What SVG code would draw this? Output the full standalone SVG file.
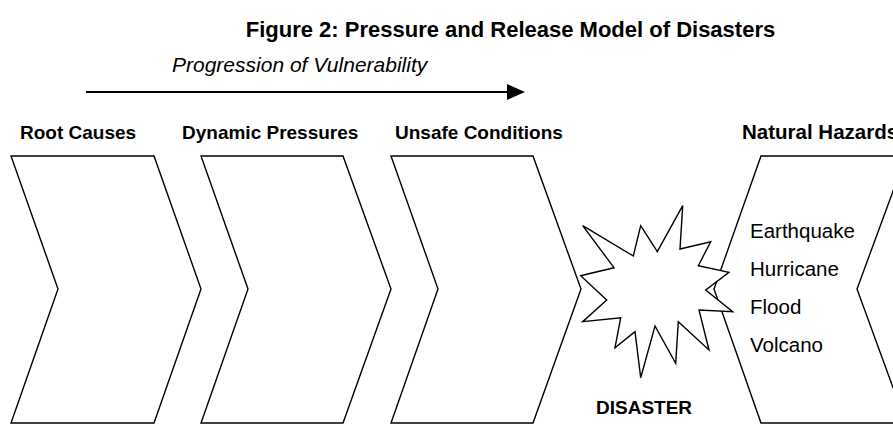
<svg xmlns="http://www.w3.org/2000/svg" width="893" height="427" viewBox="0 0 893 427">
<style>
.shape{fill:#fff;stroke:#000;stroke-width:1.4;stroke-linejoin:miter}
.t{font-family:"Liberation Sans",Arial,sans-serif;fill:#000}
.b{font-weight:bold;font-size:19px}
.h{font-size:20.5px}
</style>
<rect width="893" height="427" fill="#fff"/>
<text class="t" x="510.5" y="37" font-size="22" font-weight="bold" text-anchor="middle">Figure 2: Pressure and Release Model of Disasters</text>
<g id="connectors">
<line x1="86" y1="92" x2="508" y2="92" stroke="#000" stroke-width="2"/>
<polygon points="507,84 525,92 507,100" fill="#000"/>
<text class="t" x="172" y="72" font-size="21" font-style="italic">Progression of Vulnerability</text>
</g>
<g id="root-causes">
<polygon class="shape" points="11,156 154,156 201,289 154,423 11,423 58,289"/>
<text class="t b" x="20" y="139">Root Causes</text>
</g>
<g id="dynamic-pressures">
<polygon class="shape" points="201,156 343,156 391,289 343,423 201,423 248,289"/>
<text class="t b" x="182" y="139">Dynamic Pressures</text>
</g>
<g id="unsafe-conditions">
<polygon class="shape" points="391,156 533,156 581,289 533,423 391,423 438,289"/>
<text class="t b" x="395" y="139">Unsafe Conditions</text>
</g>
<g id="natural-hazards">
<polygon class="shape" points="761,156 906,156 857,289 906,423 761,423 714,289"/>
<text class="t b" x="742" y="139" style="font-size:20.5px">Natural Hazards</text>
<text class="t h" x="750" y="238">Earthquake</text>
<text class="t h" x="750" y="276">Hurricane</text>
<text class="t h" x="750" y="314">Flood</text>
<text class="t h" x="750" y="352">Volcano</text>
</g>
<g id="disaster">
<polygon class="shape" points="582.7,225.7 633.3,256 640.7,225.7 657.3,251.7 682.7,205.7 680,249 710.7,241.7 698.3,265.7 729,272.3 705.7,290 732.7,311.7 699,310 709,350 678.3,321.7 675.7,363.3 655,326 640.7,377.7 635,331.7 615,347.7 620.7,317.7 582.7,321.7 606.7,300 580.7,275.7 614,267.7"/>
<text class="t b" x="596" y="414">DISASTER</text>
</g>
</svg>
